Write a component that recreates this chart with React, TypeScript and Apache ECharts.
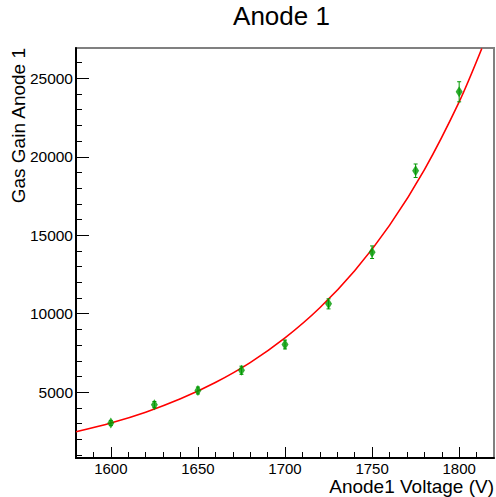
import React, { useEffect, useRef } from "react";
import * as echarts from "echarts";

// Measured points (voltage in V, gas gain, error)
const voltages = [1600, 1625, 1650, 1675, 1700, 1725, 1750, 1775, 1800];
const gains = [3040, 4210, 5110, 6400, 8040, 10630, 13920, 19110, 24140];
const gainErrors = [150, 200, 220, 260, 280, 320, 400, 430, 640];

// Fit curve
const fitVoltages = [1580, 1600, 1620, 1640, 1660, 1680, 1700, 1720, 1740, 1760, 1780, 1800, 1813];
const fitGains = [2480, 3040, 3730, 4580, 5620, 6890, 8460, 10380, 12740, 15630, 19170, 23500, 26900];

// Axis ticks
const xMajorTicks = [1600, 1650, 1700, 1750, 1800];
const xMinorTicks = [1590, 1610, 1620, 1630, 1640, 1660, 1670, 1680, 1690, 1710, 1720, 1730, 1740, 1760, 1770, 1780, 1790, 1810];
const yMajorTicks = [5000, 10000, 15000, 20000, 25000];
const yMinorTicks = [1000, 2000, 3000, 4000, 6000, 7000, 8000, 9000, 11000, 12000, 13000, 14000, 16000, 17000, 18000, 19000, 21000, 22000, 23000, 24000, 26000];

const X_MIN = 1580;
const X_MAX = 1820;
const Y_MIN = 810;
const Y_MAX = 26930;

const FONT = "Liberation Sans, Arial, Helvetica, sans-serif";
const GREEN = "#009900";

export default function App() {
  const ref = useRef<HTMLDivElement>(null);

  useEffect(() => {
    if (!ref.current) return;
    const chart = echarts.init(ref.current, null, { renderer: "svg" });

    const points = voltages.map((v, i) => [v, gains[i]]);
    const errs = voltages.map((v, i) => [v, gains[i] - gainErrors[i], gains[i] + gainErrors[i]]);
    const fit = fitVoltages.map((v, i) => [v, fitGains[i]]);

    const baseX = {
      type: "value",
      min: X_MIN,
      max: X_MAX,
      position: "bottom",
      splitLine: { show: false },
    };
    const baseY = {
      type: "value",
      min: Y_MIN,
      max: Y_MAX,
      position: "left",
      splitLine: { show: false },
    };

    chart.setOption({
      animation: false,
      backgroundColor: "#ffffff",
      grid: {
        left: 76,
        right: 2,
        top: 48,
        bottom: 39,
        show: true,
        borderColor: "#808080",
        borderWidth: 2,
        backgroundColor: "transparent",
      },
      xAxis: [
        {
          ...baseX,
          axisLine: { show: true, onZero: false, lineStyle: { color: "#000", width: 2 } },
          axisTick: { show: true, inside: true, length: 11, customValues: xMajorTicks, lineStyle: { color: "#000", width: 1 } },
          axisLabel: {
            show: true,
            customValues: xMajorTicks,
            formatter: (v: number) => String(v),
            margin: 3,
            color: "#000",
            fontSize: 15,
            lineHeight: 15,
            fontFamily: FONT,
          },
        },
        {
          ...baseX,
          axisLine: { show: false, onZero: false },
          axisTick: { show: true, inside: true, length: 6, customValues: xMinorTicks, lineStyle: { color: "#000", width: 1 } },
          axisLabel: { show: false },
        },
      ],
      yAxis: [
        {
          ...baseY,
          axisLine: { show: true, onZero: false, lineStyle: { color: "#000", width: 2 } },
          axisTick: { show: true, inside: true, length: 13, customValues: yMajorTicks, lineStyle: { color: "#000", width: 1 } },
          axisLabel: {
            show: true,
            customValues: yMajorTicks,
            formatter: (v: number) => String(v),
            margin: 3,
            color: "#000",
            fontSize: 15.5,
            fontFamily: FONT,
          },
        },
        {
          ...baseY,
          axisLine: { show: false, onZero: false },
          axisTick: { show: true, inside: true, length: 6, customValues: yMinorTicks, lineStyle: { color: "#000", width: 1 } },
          axisLabel: { show: false },
        },
      ],
      graphic: [
        {
          type: "text",
          x: 281.5,
          y: 3,
          style: {
            text: "Anode 1",
            fill: "#000",
            font: `26px ${FONT}`,
            textAlign: "center",
            textVerticalAlign: "top",
          },
        },
        {
          type: "text",
          x: 494,
          y: 476.5,
          style: {
            text: "Anode1 Voltage (V)",
            fill: "#000",
            font: `19px ${FONT}`,
            textAlign: "right",
            textVerticalAlign: "top",
          },
        },
        {
          type: "text",
          x: 18,
          y: 48,
          rotation: Math.PI / 2,
          style: {
            text: "Gas Gain Anode 1",
            fill: "#000",
            font: `19px ${FONT}`,
            textAlign: "right",
            textVerticalAlign: "middle",
          },
        },
      ],
      series: [
        {
          type: "line",
          name: "fit",
          data: fit,
          xAxisIndex: 0,
          yAxisIndex: 0,
          smooth: 0.3,
          showSymbol: false,
          symbol: "none",
          clip: true,
          lineStyle: { color: "#ff0000", width: 1.6 },
          silent: true,
          z: 3,
        },
        {
          type: "custom",
          name: "errors",
          data: errs,
          xAxisIndex: 0,
          yAxisIndex: 0,
          clip: true,
          z: 4,
          renderItem: (params: any, api: any) => {
            const x = api.value(0);
            const lo = api.coord([x, api.value(1)]);
            const hi = api.coord([x, api.value(2)]);
            const cap = 2;
            const style = { stroke: GREEN, lineWidth: 1 };
            return {
              type: "group",
              children: [
                { type: "line", shape: { x1: lo[0], y1: lo[1], x2: hi[0], y2: hi[1] }, style },
                { type: "line", shape: { x1: lo[0] - cap, y1: lo[1], x2: lo[0] + cap, y2: lo[1] }, style },
                { type: "line", shape: { x1: hi[0] - cap, y1: hi[1], x2: hi[0] + cap, y2: hi[1] }, style },
              ],
            };
          },
        },
        {
          type: "scatter",
          name: "data",
          data: points,
          xAxisIndex: 0,
          yAxisIndex: 0,
          symbol: "diamond",
          symbolSize: [7, 11],
          itemStyle: { color: GREEN },
          z: 5,
        },
      ],
    });

    return () => chart.dispose();
  }, []);

  return (
    <div
      ref={ref}
      style={{ position: "fixed", left: 0, top: 0, width: 496, height: 497, background: "#fff" }}
    />
  );
}
